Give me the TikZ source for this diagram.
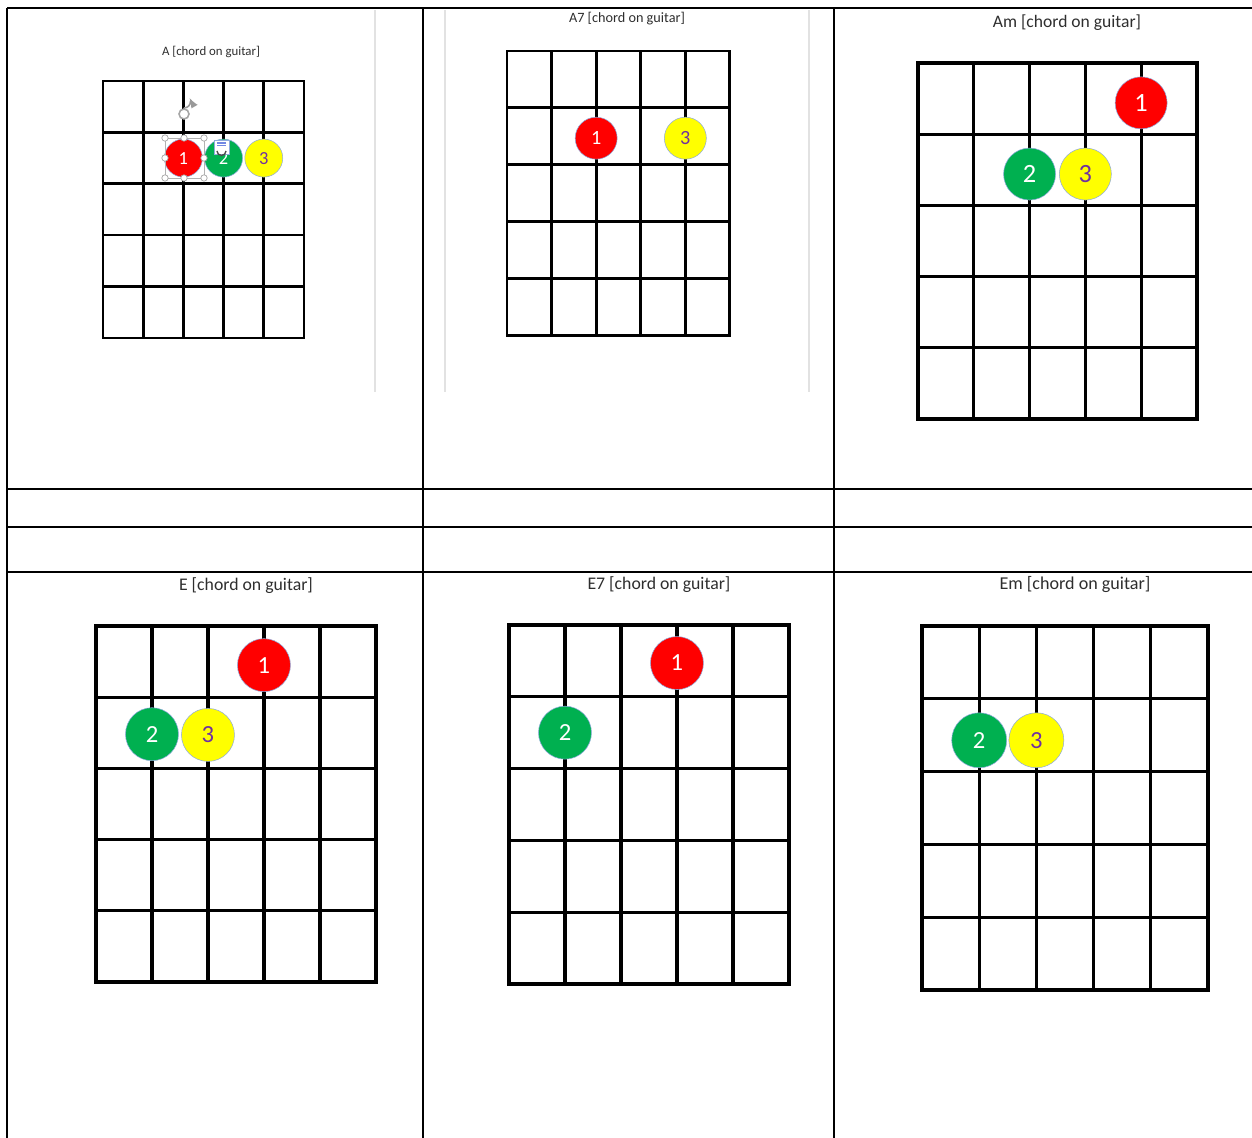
\documentclass[tikz,border=0pt]{standalone}
\usepackage{fontspec}
\setmainfont{Carlito}
\definecolor{cRed}{HTML}{FF0000}
\definecolor{cGreen}{HTML}{00B050}
\definecolor{cYellow}{HTML}{FFFF00}
\definecolor{cPurple}{HTML}{7030A0}
\definecolor{cRim}{HTML}{8FAADC}
\definecolor{cEdge}{HTML}{E2E2E2}
\definecolor{cInk}{HTML}{2E2E2E}
\tikzset{
  rule/.style     = {line width=1.1pt, draw=black},
  thickrule/.style = {rule, line width=1.7pt},
  shot/.style     = {line width=1.6pt, draw=cEdge},
  fret/.style     = {line width=1.7pt, line cap=rect, draw=black},
  dot/.style      = {circle, draw=cRim, line width=0.3pt, inner sep=0pt},
  fingA/.style    = {dot, fill=cRed, text=white},
  fingB/.style    = {dot, fill=cGreen, text=white},
  fingC/.style    = {dot, fill=cYellow, text=cPurple},
  title/.style    = {text=cInk, inner sep=0pt},
  handle/.style   = {draw=gray!70, fill=white, line width=0.4pt},
}
\begin{document}
\begin{tikzpicture}[x=0.02cm, y=-0.02cm]
  \useasboundingbox (0,0) rectangle (1252,1138);
  % ---- table rules ----
  \draw[rule] (7,8) -- (1252,8);
  \draw[rule] (7,8) -- (7,1138);
  \draw[thickrule] (423,8) -- (423,1138);
  \draw[thickrule] (834,8) -- (834,1138);
  \draw[rule] (7,489) -- (1252,489);
  \draw[thickrule] (7,527) -- (1252,527);
  \draw[rule] (7,572) -- (1252,572);
  % edges of the pasted screenshots
  \draw[shot] (375,10) -- (375,392);
  \draw[shot] (445,10) -- (445,392);
  \draw[shot] (809,10) -- (809,392);

  % ---- A ----
  \node[title, font=\fontsize{7.3}{8}\selectfont] (tA) at (211,52)
    {A [chord on guitar]};
  \begin{scope}[shift={(103,81)}, x=0.804cm, y=-1.028cm,
      fret/.append style={line width=1.5pt},
      dot/.append style={minimum size=0.76cm,
        font=\fontsize{10.5}{11}\selectfont}]
    \foreach \i in {0,...,5} {
      \draw[fret] (\i,0) -- (\i,5);
      \draw[fret] (0,\i) -- (5,\i);
    }
    \node[fingA] (a1) at (2,1.5) {1};
    \node[fingB] (a2) at (3,1.5) {2};
    \node[fingC] (a3) at (4,1.5) {3};
  \end{scope}
  % selection frame left on the first dot
  \draw[gray!60, line width=0.3pt] (165,138) rectangle (204,178);
  \foreach \p in {(165,138),(184,138),(204,138),(165,158),(204,158),
                  (165,178),(184,178),(204,178)}
    \draw[handle] \p circle (3.2);
  \draw[handle, line width=0.9pt] (184,114) circle (5);
  \draw[gray!80, line width=0.9pt, -latex] (184,108) arc (90:-30:6.5);
  \draw[handle, draw=cRim] (214,140) rectangle (229,154);
  \draw[cRim!80!blue, line width=0.6pt] (217,143) -- (226,143)
    (217,145.5) -- (226,145.5);
  \draw[black!70, line width=0.8pt] (217,151) arc (180:0:4.5);

  % ---- A7 ----
  \node[title, font=\fontsize{8.1}{9}\selectfont] (tA7) at (627,19)
    {A7 [chord on guitar]};
  \begin{scope}[shift={(507,51)}, x=0.892cm, y=-1.14cm,
      dot/.append style={minimum size=0.84cm,
        font=\fontsize{11.5}{12}\selectfont}]
    \foreach \i in {0,...,5} {
      \draw[fret] (\i,0) -- (\i,5);
      \draw[fret] (0,\i) -- (5,\i);
    }
    \node[fingA] (b1) at (2,1.53) {1};
    \node[fingC] (b3) at (4,1.53) {3};
  \end{scope}

  % ---- Am ----
  \node[title, font=\fontsize{10}{11}\selectfont] (tAm) at (1067,23)
    {Am [chord on guitar]};
  \begin{scope}[shift={(918,63)}, x=1.116cm, y=-1.424cm,
      fret/.append style={line width=1.8pt},
      dot/.append style={minimum size=1.04cm,
        font=\fontsize{15}{16}\selectfont}]
    \foreach \i in {0,...,5} {
      \draw[fret] (\i,0) -- (\i,5);
      \draw[fret] (0,\i) -- (5,\i);
    }
    \node[fingA] (c1) at (4,0.56) {1};
    \node[fingB] (c2) at (2,1.56) {2};
    \node[fingC] (c3) at (3,1.56) {3};
  \end{scope}

  % ---- E ----
  \node[title, font=\fontsize{10.1}{11}\selectfont] (tE) at (246,586)
    {E [chord on guitar]};
  \begin{scope}[shift={(96,626)}, x=1.12cm, y=-1.424cm,
      fret/.append style={line width=1.8pt},
      dot/.append style={minimum size=1.06cm,
        font=\fontsize{14}{15}\selectfont}]
    \foreach \i in {0,...,5} {
      \draw[fret] (\i,0) -- (\i,5);
      \draw[fret] (0,\i) -- (5,\i);
    }
    \node[fingA] (e1) at (3,0.55) {1};
    \node[fingB] (e2) at (1,1.52) {2};
    \node[fingC] (e3) at (2,1.53) {3};
  \end{scope}

  % ---- E7 ----
  \node[title, font=\fontsize{10.1}{11}\selectfont] (tE7) at (659,585)
    {E7 [chord on guitar]};
  \begin{scope}[shift={(509,625)}, x=1.12cm, y=-1.436cm,
      fret/.append style={line width=1.8pt},
      dot/.append style={minimum size=1.06cm,
        font=\fontsize{14}{15}\selectfont}]
    \foreach \i in {0,...,5} {
      \draw[fret] (\i,0) -- (\i,5);
      \draw[fret] (0,\i) -- (5,\i);
    }
    \node[fingA] (f1) at (3,0.53) {1};
    \node[fingB] (f2) at (1,1.5) {2};
  \end{scope}

  % ---- Em ----
  \node[title, font=\fontsize{10.3}{11}\selectfont] (tEm) at (1075,585)
    {Em [chord on guitar]};
  \begin{scope}[shift={(922,626)}, x=1.144cm, y=-1.456cm,
      fret/.append style={line width=1.8pt},
      dot/.append style={minimum size=1.1cm,
        font=\fontsize{14}{15}\selectfont}]
    \foreach \i in {0,...,5} {
      \draw[fret] (\i,0) -- (\i,5);
      \draw[fret] (0,\i) -- (5,\i);
    }
    \node[fingB] (g2) at (1,1.57) {2};
    \node[fingC] (g3) at (2,1.57) {3};
  \end{scope}
\end{tikzpicture}
\end{document}
